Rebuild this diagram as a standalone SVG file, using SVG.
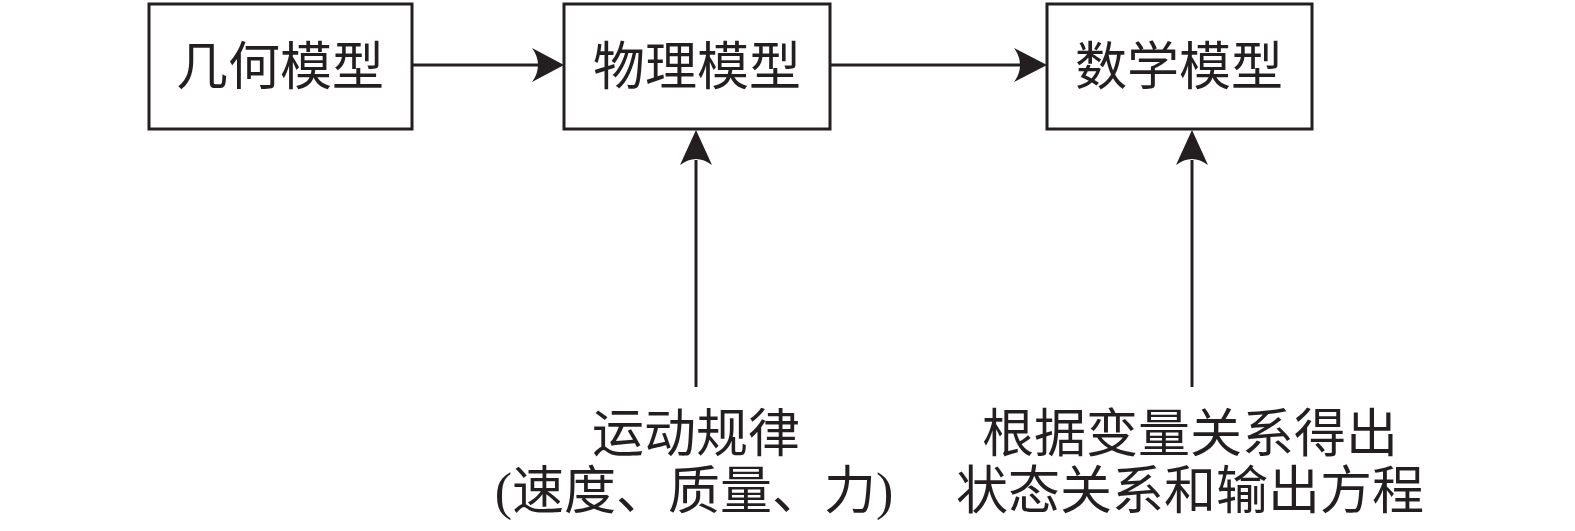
<svg xmlns="http://www.w3.org/2000/svg" width="1575" height="531" viewBox="0 0 1575 531">
<defs>
<style>
.box{fill:#fff;stroke:#231f20;stroke-width:3}
.t{font-family:"Liberation Serif","Noto Sans CJK SC",serif;font-size:52px;fill:#231f20;text-anchor:middle}
.c{stroke:#231f20;stroke-width:3;fill:none}
.ah{fill:#231f20}
</style>
</defs>
<g id="connectors">
<path d="M412,65 H538" class="c"/>
<path class="ah" d="M532,48 Q538,56 538,65 Q538,74 532,82 L564,65 Z"/>
<path d="M830,65 H1020" class="c"/>
<path class="ah" d="M1014,48 Q1020,56 1020,65 Q1020,74 1014,82 L1047,65 Z"/>
<path d="M696,387 V160" class="c"/>
<path class="ah" d="M680,165 Q688,159 696,159 Q704,159 712,165 L696,130 Z"/>
<path d="M1192,387 V160" class="c"/>
<path class="ah" d="M1176,165 Q1184,159 1192,159 Q1200,159 1208,165 L1192,130 Z"/>
</g>
<g id="node1">
<rect class="box" x="149" y="4" width="263" height="125"/>
<text class="t" x="280" y="85">几何模型</text>
</g>
<g id="node2">
<rect class="box" x="564" y="4" width="266" height="125"/>
<text class="t" x="697" y="85">物理模型</text>
</g>
<g id="node3">
<rect class="box" x="1047" y="4" width="265" height="125"/>
<text class="t" x="1179" y="85">数学模型</text>
</g>
<g id="label1">
<text class="t" x="696" y="452">运动规律</text>
<text class="t" x="694" y="509">(速度、质量、力)</text>
</g>
<g id="label2">
<text class="t" x="1190" y="452">根据变量关系得出</text>
<text class="t" x="1190" y="509">状态关系和输出方程</text>
</g>
</svg>
